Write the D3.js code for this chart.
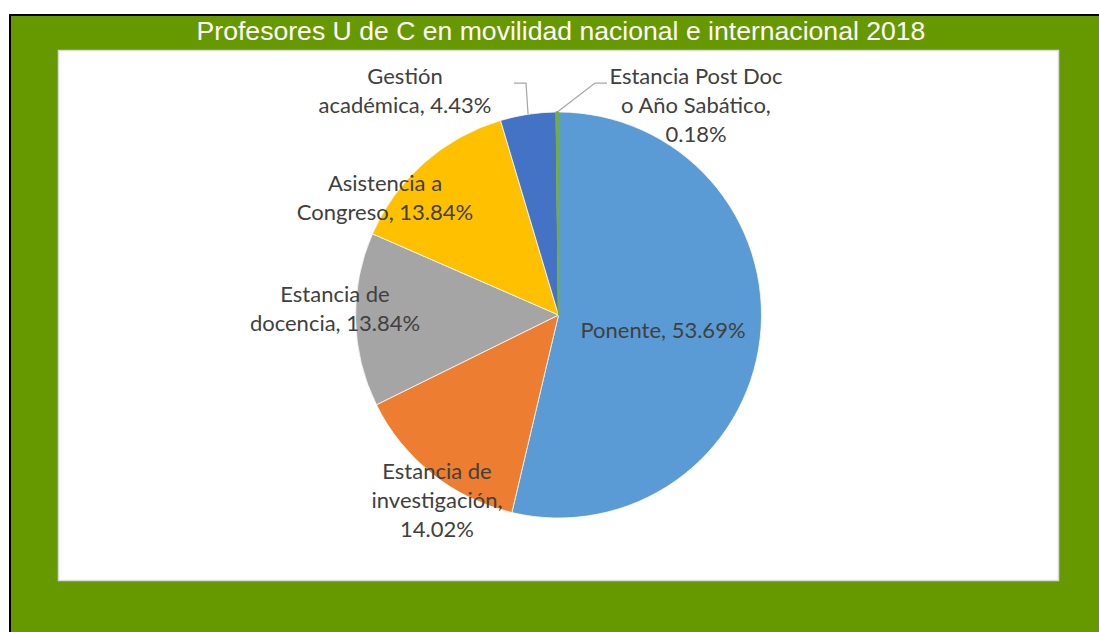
<!DOCTYPE html>
<html>
<head>
<meta charset="utf-8">
<script src="https://cdn.jsdelivr.net/npm/d3@7"></script>
<style>
    html, body { margin: 0; padding: 0; background: #ffffff; }
    svg { display: block; }
</style>
</head>
<body>
<div id="chart"></div>
<script>
// Profesores U de C en movilidad nacional e internacional 2018

const categories = [
    'Ponente',
    'Estancia de investigación',
    'Estancia de docencia',
    'Asistencia a Congreso',
    'Gestión académica',
    'Estancia Post Doc o Año Sabático'
];
const shares = [53.69, 14.02, 13.84, 13.84, 4.43, 0.18];
const labelLines = [
    ['Ponente, 53.69%'],
    ['Estancia de', 'investigación,', '14.02%'],
    ['Estancia de', 'docencia, 13.84%'],
    ['Asistencia a', 'Congreso, 13.84%'],
    ['Gestión', 'académica, 4.43%'],
    ['Estancia Post Doc', 'o Año Sabático,', '0.18%']
];
const sliceColors = ['#5b9bd5', '#ed7d31', '#a5a5a5', '#ffc000', '#4472c4', '#70ad47'];

const chartTitle = 'Profesores U de C en movilidad nacional e internacional 2018';

// label placement (center x, first baseline) and leader elbows, in page pixels
const labelLayout = {
    'Ponente': { x: 663, y: 338 },
    'Estancia de investigación': { x: 437, y: 479 },
    'Estancia de docencia': { x: 335, y: 302 },
    'Asistencia a Congreso': { x: 385, y: 191 },
    'Gestión académica': { x: 405, y: 84, leader: [[526, 83], [514, 83]] },
    'Estancia Post Doc o Año Sabático': { x: 696, y: 84, leader: [[595, 83], [607, 83]] }
};

const width = 1099;
const height = 632;
const cx = 558.5;
const cy = 315;
const radius = 203;
const lineHeight = 29;

const svg = d3.select('#chart')
    .append('svg')
    .attr('width', width)
    .attr('height', height);

// outer frame: black edge top/left, green fill
svg.append('rect')
    .attr('x', 9).attr('y', 14)
    .attr('width', width - 9).attr('height', height - 14)
    .attr('fill', '#000000');
svg.append('rect')
    .attr('x', 11).attr('y', 16)
    .attr('width', width - 11).attr('height', height - 16)
    .attr('fill', '#669900');

// plot area
svg.append('rect')
    .attr('x', 58.5).attr('y', 50.5)
    .attr('width', 1000).attr('height', 530)
    .attr('fill', '#ffffff')
    .attr('stroke', '#d9d9d9')
    .attr('stroke-width', 1.5);

svg.append('text')
    .attr('x', 561)
    .attr('y', 40)
    .attr('text-anchor', 'middle')
    .attr('font-family', '"Liberation Sans", Arial, sans-serif')
    .attr('font-size', 26.6)
    .attr('fill', '#ffffff')
    .text(chartTitle);

const data = categories.map((name, i) => ({ name, value: shares[i], lines: labelLines[i] }));

const pie = d3.pie()
    .sort(null)
    .value((d) => d.value)
    .startAngle(0)
    .endAngle(2 * Math.PI);

const arc = d3.arc().innerRadius(0).outerRadius(radius);
const color = d3.scaleOrdinal().domain(categories).range(sliceColors);

const arcs = pie(data);

const pieGroup = svg.append('g').attr('transform', `translate(${cx},${cy})`);

// very thin slices keep their own colour on the edge so they stay visible
const isSliver = (d) => d.endAngle - d.startAngle < 0.02;

pieGroup.selectAll('path')
    .data(arcs)
    .join('path')
    .attr('d', arc)
    .attr('fill', (d) => color(d.data.name))
    .attr('stroke', (d) => (isSliver(d) ? color(d.data.name) : '#ffffff'))
    .attr('stroke-width', (d) => (isSliver(d) ? 1.5 : 0.75))
    .attr('stroke-linejoin', 'round');

// leader lines for the small slices
arcs.forEach((d) => {
    const layout = labelLayout[d.data.name];
    if (!layout.leader) return;
    const mid = (d.startAngle + d.endAngle) / 2;
    const start = [cx + radius * Math.sin(mid), cy - radius * Math.cos(mid)];
    const points = [start, ...layout.leader];
    svg.append('path')
        .attr('d', d3.line()(points))
        .attr('fill', 'none')
        .attr('stroke', '#a6a6a6')
        .attr('stroke-width', 1.25);
});

const labels = svg.append('g')
    .attr('font-family', 'Lato, "Open Sans", sans-serif')
    .attr('font-size', 22)
    .attr('fill', '#404040')
    .attr('text-anchor', 'middle');

arcs.forEach((d) => {
    const layout = labelLayout[d.data.name];
    const text = labels.append('text');
    d.data.lines.forEach((line, i) => {
        text.append('tspan')
            .attr('x', layout.x)
            .attr('y', layout.y + i * lineHeight)
            .text(line);
    });
});
</script>
</body>
</html>
